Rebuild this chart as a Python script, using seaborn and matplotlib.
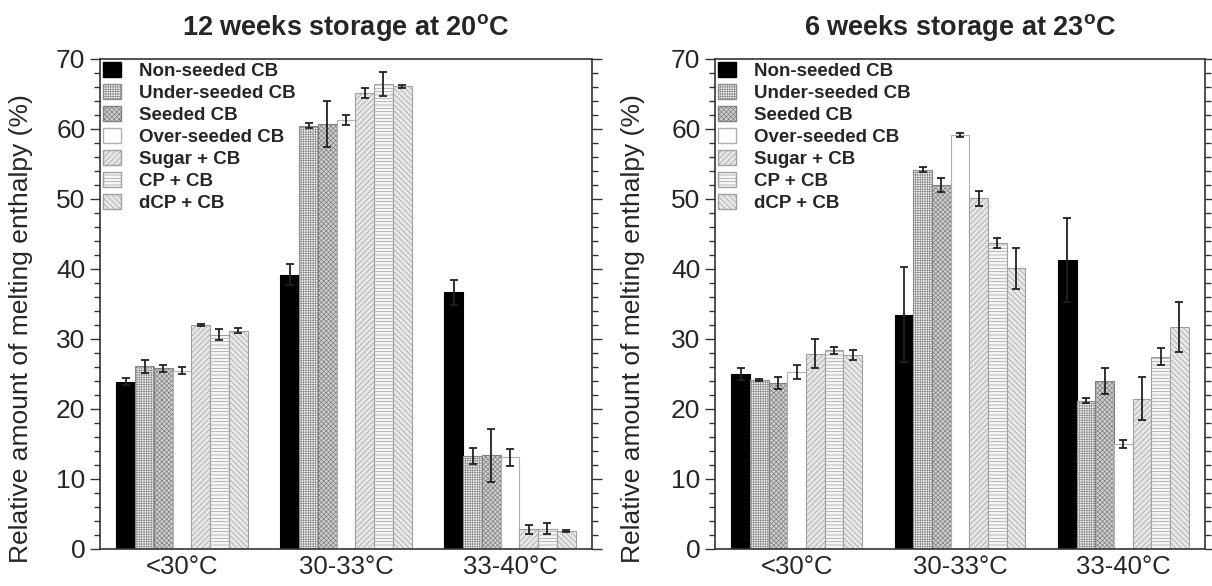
import matplotlib
matplotlib.use("Agg")
import matplotlib.pyplot as plt
from matplotlib.patches import Patch
from matplotlib.ticker import MultipleLocator
import numpy as np
import pandas as pd
import seaborn as sns

categories = ["<30°C", "30-33°C", "33-40°C"]
samples = ["Non-seeded CB", "Under-seeded CB", "Seeded CB", "Over-seeded CB",
           "Sugar + CB", "CP + CB", "dCP + CB"]

# 12 weeks at 20 C, one list per melting range (order = samples)
m20_lt30 = [23.9, 26.1, 25.8, 25.5, 32.0, 30.6, 31.2]
m20_30_33 = [39.2, 60.5, 60.7, 61.3, 65.1, 66.4, 66.1]
m20_33_40 = [36.7, 13.3, 13.4, 13.1, 2.8, 2.9, 2.6]
sd20_lt30 = [0.5, 0.9, 0.5, 0.5, 0.15, 0.8, 0.4]
sd20_30_33 = [1.5, 0.3, 3.3, 0.75, 0.7, 1.7, 0.2]
sd20_33_40 = [1.8, 1.1, 3.8, 1.2, 0.6, 0.8, 0.15]

# 6 weeks at 23 C
m23_lt30 = [25.0, 24.2, 23.7, 25.3, 27.9, 28.4, 27.7]
m23_30_33 = [33.5, 54.2, 52.0, 59.2, 50.1, 43.7, 40.1]
m23_33_40 = [41.3, 21.2, 24.0, 15.0, 21.5, 27.5, 31.7]
sd23_lt30 = [0.9, 0.15, 0.9, 0.95, 2.1, 0.5, 0.7]
sd23_30_33 = [6.8, 0.4, 1.05, 0.3, 1.05, 0.7, 2.9]
sd23_33_40 = [6.0, 0.4, 1.9, 0.6, 3.1, 1.2, 3.6]

faces = ["black", "#f4f4f4", "#cfcfcf", "white", "#e6e6e6", "#f6f6f6", "#e8e8e8"]
edges = ["black", "#8c8c8c", "#808080", "#b0b0b0", "#a0a0a0", "#a0a0a0", "#a0a0a0"]
hatches = ["", "+++++++", "xxxxxxx", "", "//////", "-----", "\\\\\\\\\\\\"]


def make_frame(means, sds):
    rows = []
    for cat, m_list, s_list in zip(categories, means, sds):
        for s, m, e in zip(samples, m_list, s_list):
            rows.append({"range": cat, "sample": s, "value": m, "sd": e})
    return pd.DataFrame(rows)


df20 = make_frame([m20_lt30, m20_30_33, m20_33_40], [sd20_lt30, sd20_30_33, sd20_33_40])
df23 = make_frame([m23_lt30, m23_30_33, m23_33_40], [sd23_lt30, sd23_30_33, sd23_33_40])

sns.set_style("ticks")
plt.rcParams["font.family"] = ["Liberation Sans", "DejaVu Sans"]
plt.rcParams["mathtext.fontset"] = "custom"
plt.rcParams["mathtext.bf"] = "Liberation Sans:bold"
plt.rcParams["mathtext.rm"] = "Liberation Sans"
plt.rcParams["hatch.linewidth"] = 0.5

fig = plt.figure(figsize=(12.12, 5.86), dpi=100)
ax1 = fig.add_axes([100 / 1212, 37 / 586, 492 / 1212, 490 / 586])
ax2 = fig.add_axes([715 / 1212, 37 / 586, 490 / 1212, 490 / 586])


def draw_panel(ax, df, title, label_x):
    sns.barplot(data=df, x="range", y="value", hue="sample", order=categories,
                hue_order=samples, errorbar=None, legend=False, ax=ax, width=0.8,
                palette=faces)
    bar_groups = list(ax.containers)
    for i, cont in enumerate(bar_groups):
        sub = df[df["sample"] == samples[i]].set_index("range").loc[categories]
        xs = []
        for bar in cont.patches:
            bar.set_facecolor(faces[i])
            bar.set_edgecolor(edges[i])
            bar.set_linewidth(0.8)
            bar.set_hatch(hatches[i])
            xs.append(bar.get_x() + bar.get_width() / 2)
        ax.errorbar(xs, sub["value"], yerr=sub["sd"], fmt="none", ecolor="#222222",
                    elinewidth=1.3, capsize=3, capthick=1.3, zorder=5)
    ax.set_ylim(0, 70)
    ax.set_xlim(-0.5, 2.5)
    ax.yaxis.set_major_locator(MultipleLocator(10))
    ax.yaxis.set_minor_locator(MultipleLocator(2))
    ax.tick_params(axis="y", which="both", direction="out", right=True, labelsize=19,
                   width=1.0, color="#333333")
    ax.tick_params(axis="y", which="major", length=7)
    ax.tick_params(axis="y", which="minor", length=4)
    ax.tick_params(axis="x", length=0, labelsize=18.5, pad=4)
    for sp in ax.spines.values():
        sp.set_visible(True)
        sp.set_linewidth(1.2)
        sp.set_color("#333333")
    ax.set_xlabel("")
    ax.set_ylabel("Relative amount of melting enthalpy (%)", fontsize=19)
    ax.yaxis.set_label_coords(label_x, 0.45)
    ax.set_title(title, fontsize=19.5, fontweight="bold", pad=17)
    handles = [Patch(facecolor=faces[i], edgecolor=edges[i], hatch=hatches[i], label=s)
               for i, s in enumerate(samples)]
    ax.legend(handles=handles, loc="upper left", frameon=False,
              prop={"weight": "bold", "size": 13.5}, handlelength=0.95, handleheight=0.9,
              labelspacing=0.2, handletextpad=1.0, borderaxespad=0.1,
              borderpad=0.05)


draw_panel(ax1, df20, r"12 weeks storage at 20$^\mathbf{o}$C", -0.137)
draw_panel(ax2, df23, r"6 weeks storage at 23$^\mathbf{o}$C", -0.143)

fig.savefig("out.png", dpi=100, facecolor="white")
